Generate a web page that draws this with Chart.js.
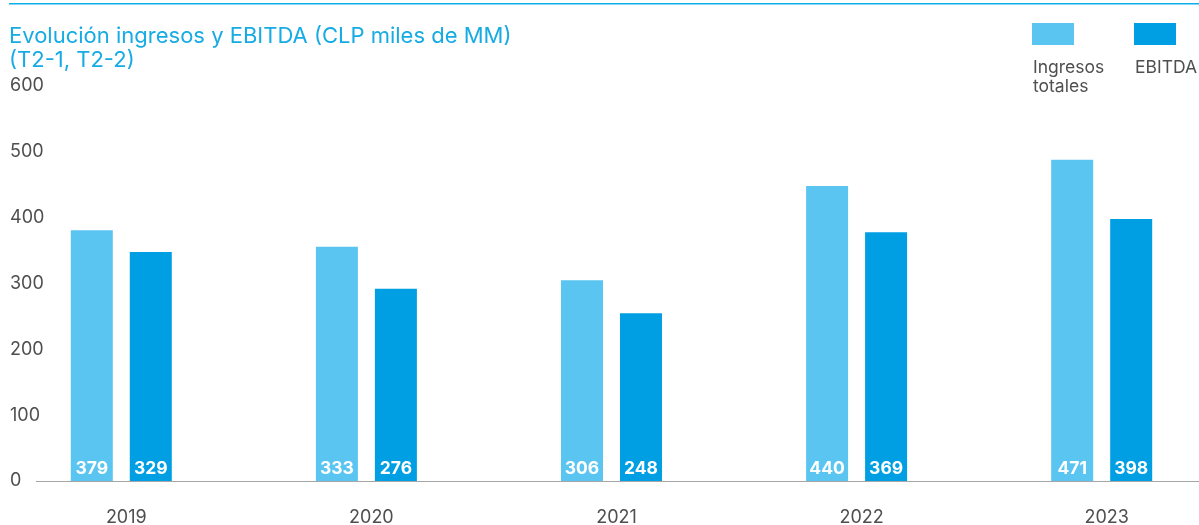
<!DOCTYPE html>
<html lang="es">
<head>
<meta charset="utf-8">
<title>Evolución ingresos y EBITDA</title>
<script src="https://cdn.jsdelivr.net/npm/chart.js@4/dist/chart.umd.min.js"></script>
<style>
  html, body { margin: 0; padding: 0; background: #fff; }
  #wrap { width: 1199px; height: 525px; position: relative; }
</style>
</head>
<body>
<div id="wrap"><canvas id="chartIngresos"></canvas></div>
<script>
// datos
const years = [2019, 2020, 2021, 2022, 2023];
const ingresos = [381, 356, 305, 448, 488];      // altura de las barras
const ebitda = [348, 292, 255, 378, 398];
const ingresosLabels = ["379", "333", "306", "440", "471"];  // cifras impresas
const ebitdaLabels = ["329", "276", "248", "369", "398"];
const yTicks = [0, 100, 200, 300, 400, 500, 600];

const titleLines = ["Evolución ingresos y EBITDA (CLP miles de MM)", "(T2-1, T2-2)"];
const legendItems = [
  { lines: ["Ingresos", "totales"], color: "#5bc5f2" },
  { lines: ["EBITDA"], color: "#009fe3" }
];

const FONT = "Inter, 'Noto Sans', sans-serif";
const GREY = "#4f4f4f";

// titulo, linea superior y leyenda
const decoracion = {
  id: 'decoracion',
  afterDraw(chart) {
    const c = chart.ctx;
    c.save();
    c.fillStyle = "#0bb0ea";
    c.fillRect(9, 3, chart.width - 9, 1.5);

    c.fillStyle = "#17abe4";
    c.font = "22px " + FONT;
    c.textBaseline = "alphabetic";
    c.textAlign = "left";
    titleLines.forEach((t, i) => c.fillText(t, 9, 43 + i * 24));

    let x = 1032;
    legendItems.forEach(item => {
      c.fillStyle = item.color;
      c.fillRect(x, 23, 42, 22);
      c.fillStyle = GREY;
      c.font = "17.5px " + FONT;
      item.lines.forEach((l, i) => c.fillText(l, x + 1, 73 + i * 19));
      x += 102;
    });
    c.restore();
  }
};

// cifras dentro de las barras
const etiquetas = {
  id: 'etiquetas',
  afterDatasetsDraw(chart) {
    const c = chart.ctx;
    const textos = [ingresosLabels, ebitdaLabels];
    c.save();
    c.fillStyle = "#ffffff";
    c.font = "bold 17.5px " + FONT;
    c.textAlign = "center";
    c.textBaseline = "middle";
    chart.data.datasets.forEach((ds, di) => {
      chart.getDatasetMeta(di).data.forEach((bar, i) => {
        c.fillText(textos[di][i], bar.x, bar.base - 12);
      });
    });
    c.restore();
  }
};

new Chart(document.getElementById('chartIngresos'), {
  type: 'bar',
  data: {
    labels: years,
    datasets: [
      {
        label: "Ingresos totales",
        data: ingresos,
        backgroundColor: "#5bc5f2",
        categoryPercentage: 0.4814,
        barPercentage: 0.712
      },
      {
        label: "EBITDA",
        data: ebitda,
        backgroundColor: "#009fe3",
        categoryPercentage: 0.4814,
        barPercentage: 0.712
      }
    ]
  },
  options: {
    responsive: true,
    maintainAspectRatio: false,
    animation: false,
    layout: { padding: { top: 86, left: 10, right: 0, bottom: 0 } },
    plugins: {
      legend: { display: false },
      tooltip: { enabled: false }
    },
    scales: {
      x: {
        type: 'linear',
        offset: false,
        min: 2018.652,
        max: 2023.397,
        grid: { display: false },
        border: { display: true, color: "#a6a6a6", width: 1 },
        afterFit(scale) { scale.height = 44; },
        afterBuildTicks(scale) { scale.ticks = years.map(v => ({ value: v })); },
        ticks: {
          color: GREY,
          font: { family: FONT, size: 18 },
          padding: 18,
          labelOffset: 5,
          callback: v => String(v)
        }
      },
      y: {
        min: 0,
        max: 600,
        grid: { display: false },
        border: { display: false },
        afterFit(scale) { scale.width = 26; },
        afterBuildTicks(scale) { scale.ticks = yTicks.map(v => ({ value: v })); },
        ticks: {
          color: GREY,
          mirror: true,
          font: { family: FONT, size: 18 },
          padding: -26
        }
      }
    }
  },
  plugins: [decoracion, etiquetas]
});
</script>
</body>
</html>
